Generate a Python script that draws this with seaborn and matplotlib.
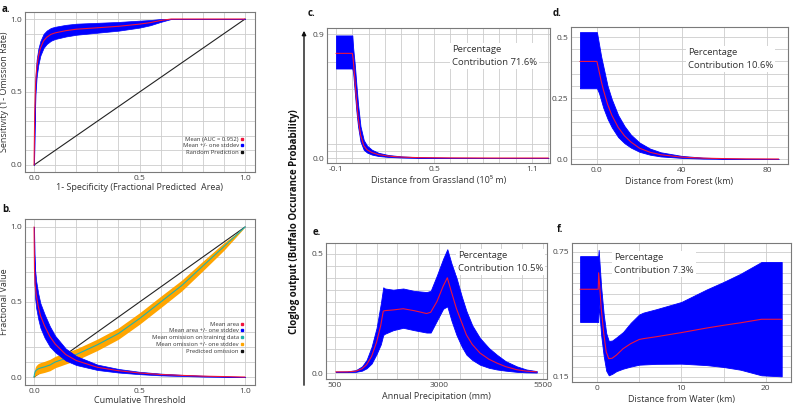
import numpy as np
import pandas as pd
import matplotlib
matplotlib.use("Agg")
import matplotlib.pyplot as plt
import seaborn as sns
from matplotlib.lines import Line2D

sns.set_theme(style="whitegrid")
plt.rcParams['font.family'] = ['Open Sans', 'DejaVu Sans']

# ---------------- data ----------------
# a. ROC
roc_fpr = [0, 0.003, 0.007, 0.012, 0.02, 0.03, 0.045, 0.06, 0.08, 0.1, 0.15, 0.2, 0.3, 0.4, 0.5, 0.55, 0.6, 0.65, 1.0]
roc_mean = [0.0, 0.35, 0.55, 0.66, 0.74, 0.80, 0.85, 0.875, 0.895, 0.905, 0.92, 0.93, 0.94, 0.95, 0.965, 0.975, 0.99, 1.0, 1.0]
roc_sd = [0, 0.05, 0.06, 0.06, 0.055, 0.05, 0.048, 0.046, 0.044, 0.042, 0.04, 0.038, 0.034, 0.03, 0.024, 0.018, 0.01, 0.0, 0.0]
roc_auc = 0.952

# b. omission / area
thr = [0, 0.002, 0.005, 0.01, 0.02, 0.03, 0.05, 0.075, 0.1, 0.15, 0.2, 0.3, 0.4, 0.5, 0.6, 0.7, 0.8, 0.9, 1.0]
area_mean = [1.0, 0.72, 0.62, 0.55, 0.47, 0.41, 0.34, 0.27, 0.22, 0.15, 0.11, 0.065, 0.042, 0.027, 0.017, 0.011, 0.006, 0.003, 0.0]
area_sd = [0.0, 0.1, 0.095, 0.09, 0.085, 0.082, 0.078, 0.068, 0.055, 0.04, 0.03, 0.018, 0.012, 0.008, 0.006, 0.004, 0.003, 0.002, 0.0]
omis_mean = [0.0, 0.02, 0.035, 0.045, 0.055, 0.06, 0.068, 0.08, 0.1, 0.125, 0.15, 0.215, 0.29, 0.39, 0.5, 0.61, 0.74, 0.87, 1.0]
omis_sd = [0.0, 0.02, 0.028, 0.032, 0.035, 0.036, 0.037, 0.038, 0.038, 0.038, 0.038, 0.038, 0.038, 0.038, 0.038, 0.036, 0.032, 0.025, 0.0]

# c. distance from grassland (10^5 m)
grass_x = [-0.1, 0.0, 0.005, 0.015, 0.025, 0.035, 0.05, 0.07, 0.09, 0.12, 0.16, 0.22, 0.3, 0.4, 0.6, 0.9, 1.2]
grass_mean = [0.76, 0.76, 0.72, 0.58, 0.43, 0.30, 0.17, 0.09, 0.06, 0.04, 0.025, 0.014, 0.007, 0.003, 0.001, 0.0, 0.0]
grass_lo = [0.65, 0.65, 0.62, 0.48, 0.34, 0.23, 0.12, 0.06, 0.04, 0.025, 0.015, 0.008, 0.004, 0.001, 0.0, 0.0, 0.0]
grass_hi = [0.89, 0.89, 0.80, 0.68, 0.53, 0.39, 0.23, 0.13, 0.09, 0.06, 0.038, 0.022, 0.012, 0.006, 0.002, 0.0005, 0.0]

# d. distance from forest (km)
forest_x = [-8, 0, 1, 2, 3, 5, 7, 10, 13, 16, 20, 25, 30, 40, 50, 60, 70, 85.5]
forest_mean = [0.40, 0.40, 0.36, 0.32, 0.285, 0.225, 0.18, 0.13, 0.095, 0.07, 0.045, 0.028, 0.018, 0.008, 0.004, 0.002, 0.001, 0.0005]
forest_hi = [0.52, 0.52, 0.47, 0.42, 0.38, 0.30, 0.245, 0.18, 0.135, 0.10, 0.068, 0.043, 0.028, 0.013, 0.006, 0.003, 0.0015, 0.0007]
forest_lo = [0.29, 0.29, 0.27, 0.24, 0.21, 0.165, 0.13, 0.09, 0.065, 0.047, 0.03, 0.018, 0.011, 0.005, 0.002, 0.001, 0.0005, 0.0003]

# e. annual precipitation (mm)
precip_x = [520, 800, 1000, 1150, 1260, 1380, 1500, 1600, 1660, 1700, 1900, 2140, 2400, 2700, 2800, 2950, 3100, 3200, 3300, 3420, 3550, 3660, 3800, 3985, 4200, 4390, 4600, 4870, 5100, 5350]
precip_mean = [0.005, 0.005, 0.008, 0.018, 0.035, 0.07, 0.13, 0.2, 0.26, 0.262, 0.265, 0.27, 0.262, 0.25, 0.255, 0.3, 0.365, 0.40, 0.34, 0.27, 0.21, 0.16, 0.12, 0.084, 0.058, 0.042, 0.027, 0.014, 0.008, 0.005]
precip_hi = [0.006, 0.007, 0.012, 0.028, 0.055, 0.11, 0.19, 0.29, 0.36, 0.355, 0.35, 0.355, 0.345, 0.34, 0.345, 0.41, 0.48, 0.52, 0.46, 0.40, 0.32, 0.26, 0.2, 0.147, 0.105, 0.077, 0.05, 0.028, 0.015, 0.008]
precip_lo = [0.004, 0.004, 0.005, 0.01, 0.02, 0.04, 0.08, 0.12, 0.16, 0.165, 0.18, 0.19, 0.18, 0.17, 0.17, 0.22, 0.27, 0.28, 0.22, 0.16, 0.11, 0.077, 0.055, 0.035, 0.022, 0.015, 0.01, 0.005, 0.003, 0.002]

# f. distance from water (km)
water_x = [-2.0, 0.15, 0.2, 0.3, 0.5, 0.8, 1.1, 1.4, 1.8, 2.3, 3.1, 4.0, 5.0, 5.5, 7.0, 10, 13, 15, 17, 19.5, 21.9]
water_mean = [0.571, 0.571, 0.65, 0.60, 0.48, 0.36, 0.27, 0.238, 0.24, 0.255, 0.286, 0.31, 0.33, 0.334, 0.343, 0.363, 0.385, 0.398, 0.41, 0.427, 0.427]
water_hi = [0.73, 0.73, 0.76, 0.70, 0.58, 0.45, 0.36, 0.323, 0.325, 0.34, 0.366, 0.41, 0.45, 0.459, 0.475, 0.51, 0.57, 0.606, 0.645, 0.702, 0.702]
water_lo = [0.414, 0.414, 0.5, 0.45, 0.35, 0.25, 0.18, 0.158, 0.165, 0.178, 0.19, 0.2, 0.209, 0.21, 0.213, 0.214, 0.207, 0.198, 0.185, 0.158, 0.153]

contrib = {"c": 71.6, "d": 10.6, "e": 10.5, "f": 7.3}

# ---------------- layout ----------------
W, H = 793, 404
fig = plt.figure(figsize=(W / 100, H / 100), dpi=100)


def box(l, r, t, b):
    return [l / W, 1 - b / H, (r - l) / W, (b - t) / H]


BLUE = "#0000ff"
RED = "#f0143c"
GRID = "#cccccc"
TXT = "#333333"


def style(ax, xlim, ylim, xt, yt, xtl, ytl, xgrid, ygrid):
    ax.set_xlim(*xlim)
    ax.set_ylim(*ylim)
    ax.set_xticks(xt)
    ax.set_xticklabels(xtl)
    ax.set_yticks(yt)
    ax.set_yticklabels(ytl)
    ax.set_xticks(xgrid, minor=True)
    ax.set_yticks(ygrid, minor=True)
    ax.grid(True, which="both", color=GRID, linewidth=0.6)
    ax.set_axisbelow(True)
    ax.tick_params(which="both", labelsize=6, colors="#444444", length=2, direction="in", pad=2)
    ax.tick_params(which="minor", length=1.5)
    for s in ax.spines.values():
        s.set_color("#7a7a7a")
        s.set_linewidth(0.8)
    ax.set_facecolor("white")


def band(ax, x, lo, hi, mean):
    ax.fill_between(x, lo, hi, color=BLUE, linewidth=0.6, edgecolor=BLUE, zorder=2)
    sns.lineplot(x=x, y=mean, ax=ax, color=RED, linewidth=0.8, zorder=3, estimator=None, sort=False)


# a
axa = fig.add_axes(box(25, 255, 12, 172))
fpr = np.array(roc_fpr)
rm = np.array(roc_mean)
rs = np.array(roc_sd)
axa.plot([0, 1], [0, 1], color="#222222", linewidth=0.8, zorder=1)
axa.fill_between(fpr, rm - rs, np.minimum(rm + rs, 1.0), color=BLUE, linewidth=0.5, edgecolor=BLUE, zorder=2)
sns.lineplot(x=fpr, y=rm, ax=axa, color=RED, linewidth=0.8, zorder=3, estimator=None, sort=False)
style(axa, (-0.043, 1.047), (-0.048, 1.048), [0, 0.5, 1.0], [0, 0.5, 1.0],
      ["0.0", "0.5", "1.0"], ["0.0", "0.5", "1.0"],
      np.arange(0, 1.01, 0.1), np.arange(0, 1.01, 0.1))
axa.set_xlabel("1- Specificity (Fractional Predicted  Area)", fontsize=6.5, color=TXT, labelpad=1)
axa.set_ylabel("Sensitivity (1- Omission Rate)", fontsize=6.5, color=TXT, labelpad=1)
ha = [Line2D([], [], marker="s", linestyle="none", markersize=2, color=c) for c in [RED, BLUE, "#111111"]]
axa.legend(ha, [f"Mean (AUC = {roc_auc})", "Mean +/- one stddev", "Random Prediction"],
           loc="upper right", bbox_to_anchor=(0.965, 0.24), markerfirst=False, frameon=False,
           fontsize=4.2, labelspacing=0.3, handletextpad=0.3, handlelength=0.6, borderpad=0,
           labelcolor="#333333")

# b
axb = fig.add_axes(box(25, 255, 219, 385))
t = np.array(thr)
am, asd = np.array(area_mean), np.array(area_sd)
om, osd = np.array(omis_mean), np.array(omis_sd)
axb.plot([0, 1], [0, 1], color="#222222", linewidth=0.8, zorder=1)
axb.fill_between(t, om - osd, om + osd, color="#ffa500", linewidth=0, zorder=2)
sns.lineplot(x=t, y=om, ax=axb, color="#20b2aa", linewidth=0.8, zorder=3, estimator=None, sort=False)
axb.fill_between(t, np.maximum(am - asd, 0), am + asd, color=BLUE, linewidth=0.5, edgecolor=BLUE, zorder=4)
sns.lineplot(x=t, y=am, ax=axb, color=RED, linewidth=0.8, zorder=5, estimator=None, sort=False)
style(axb, (-0.043, 1.047), (-0.053, 1.053), [0, 0.5, 1.0], [0, 0.5, 1.0],
      ["0.0", "0.5", "1.0"], ["0.0", "0.5", "1.0"],
      np.arange(0, 1.01, 0.1), np.arange(0, 1.01, 0.1))
axb.set_xlabel("Cumulative Threshold", fontsize=6.5, color=TXT, labelpad=1)
axb.set_ylabel("Fractional Value", fontsize=6.5, color=TXT, labelpad=1)
hb = [Line2D([], [], marker="s", linestyle="none", markersize=2, color=c)
      for c in [RED, BLUE, "#20b2aa", "#ffa500", "#111111"]]
axb.legend(hb, ["Mean area", "Mean area +/- one stddev", "Mean omission on training data",
                "Mean omission +/- one stddev", "Predicted omission"],
           loc="upper right", bbox_to_anchor=(0.965, 0.40), markerfirst=False, frameon=False,
           fontsize=4.2, labelspacing=0.3, handletextpad=0.3, handlelength=0.6, borderpad=0,
           labelcolor="#333333")

# c
axc = fig.add_axes(box(327, 550, 28, 163))
band(axc, grass_x, grass_lo, grass_hi, grass_mean)
style(axc, (-0.155, 1.21), (-0.036, 0.944), [-0.1, 0.5, 1.1], [0.0, 0.9],
      ["-0.1", "0.5", "1.1"], ["0.0", "0.9"],
      np.arange(-0.1, 1.21, 0.1), [0.05, 0.1, 0.3, 0.5, 0.7])
axc.set_xlabel("Distance from Grassland (10\u2075 m)", fontsize=6.5, color=TXT, labelpad=2)

# d
axd = fig.add_axes(box(571, 788, 27, 164))
band(axd, forest_x, forest_lo, forest_hi, forest_mean)
style(axd, (-12.2, 89.9), (-0.02, 0.541), [0, 40, 80], [0.0, 0.25, 0.5],
      ["0.0", "40", "80"], ["0.0", "0.25", "0.5"],
      [0, 20, 40, 60, 80], np.arange(0, 0.51, 0.05))
axd.set_xlabel("Distance from Forest (km)", fontsize=6.5, color=TXT, labelpad=2)

# e
axe = fig.add_axes(box(326, 547, 243, 379))
band(axe, precip_x, precip_lo, precip_hi, precip_mean)
style(axe, (284, 5596), (-0.025, 0.546), [500, 3000, 5500], [0.0, 0.5],
      ["500", "3000", "5500"], ["0.0", "0.5"],
      np.arange(500, 5501, 500), np.arange(0, 0.51, 0.05))
axe.set_xlabel("Annual Precipitation (mm)", fontsize=6.5, color=TXT, labelpad=2)

# f
axf = fig.add_axes(box(572, 791, 243, 382))
band(axf, water_x, water_lo, water_hi, water_mean)
style(axf, (-2.96, 23.0), (0.126, 0.793), [0, 10, 20], [0.15, 0.75],
      ["0", "10", "20"], ["0.15", "0.75"],
      [0, 5, 10, 15, 20], np.arange(0.15, 0.76, 0.05))
axf.set_xlabel("Distance from Water (km)", fontsize=6.5, color=TXT, labelpad=2)

# contribution texts (pixel positions of text top-left)
for key, (px, py) in {"c": (452, 45), "d": (688, 48), "e": (458, 251), "f": (614, 253)}.items():
    fig.text(px / W, 1 - py / H, f"Percentage\nContribution {contrib[key]}%",
             fontsize=6.8, color=TXT, ha="left", va="top", linespacing=1.55,
             bbox=dict(facecolor="white", edgecolor="none", pad=1.5), zorder=10)

# panel letters
for lab, (px, py) in {"a.": (2, 9), "b.": (2, 210), "c.": (308, 13), "d.": (553, 13),
                      "e.": (313, 233), "f.": (557, 230)}.items():
    fig.text(px / W, 1 - py / H, lab, fontsize=7, fontweight="bold", color="#111111",
             ha="left", va="center")

# shared y-axis label with arrow
fig.text(294 / W, 1 - 222 / H, "Cloglog output (Buffalo Occurance Probability)",
         rotation=90, fontsize=7, fontweight="bold", color="#111111", ha="center", va="center")
fig.add_artist(matplotlib.patches.FancyArrowPatch((304 / W, 1 - 388 / H), (304 / W, 1 - 28 / H),
                                                  transform=fig.transFigure, arrowstyle="-|>",
                                                  mutation_scale=6, color="#111111", linewidth=1.0))

fig.savefig("out.png", dpi=100, facecolor="white")
